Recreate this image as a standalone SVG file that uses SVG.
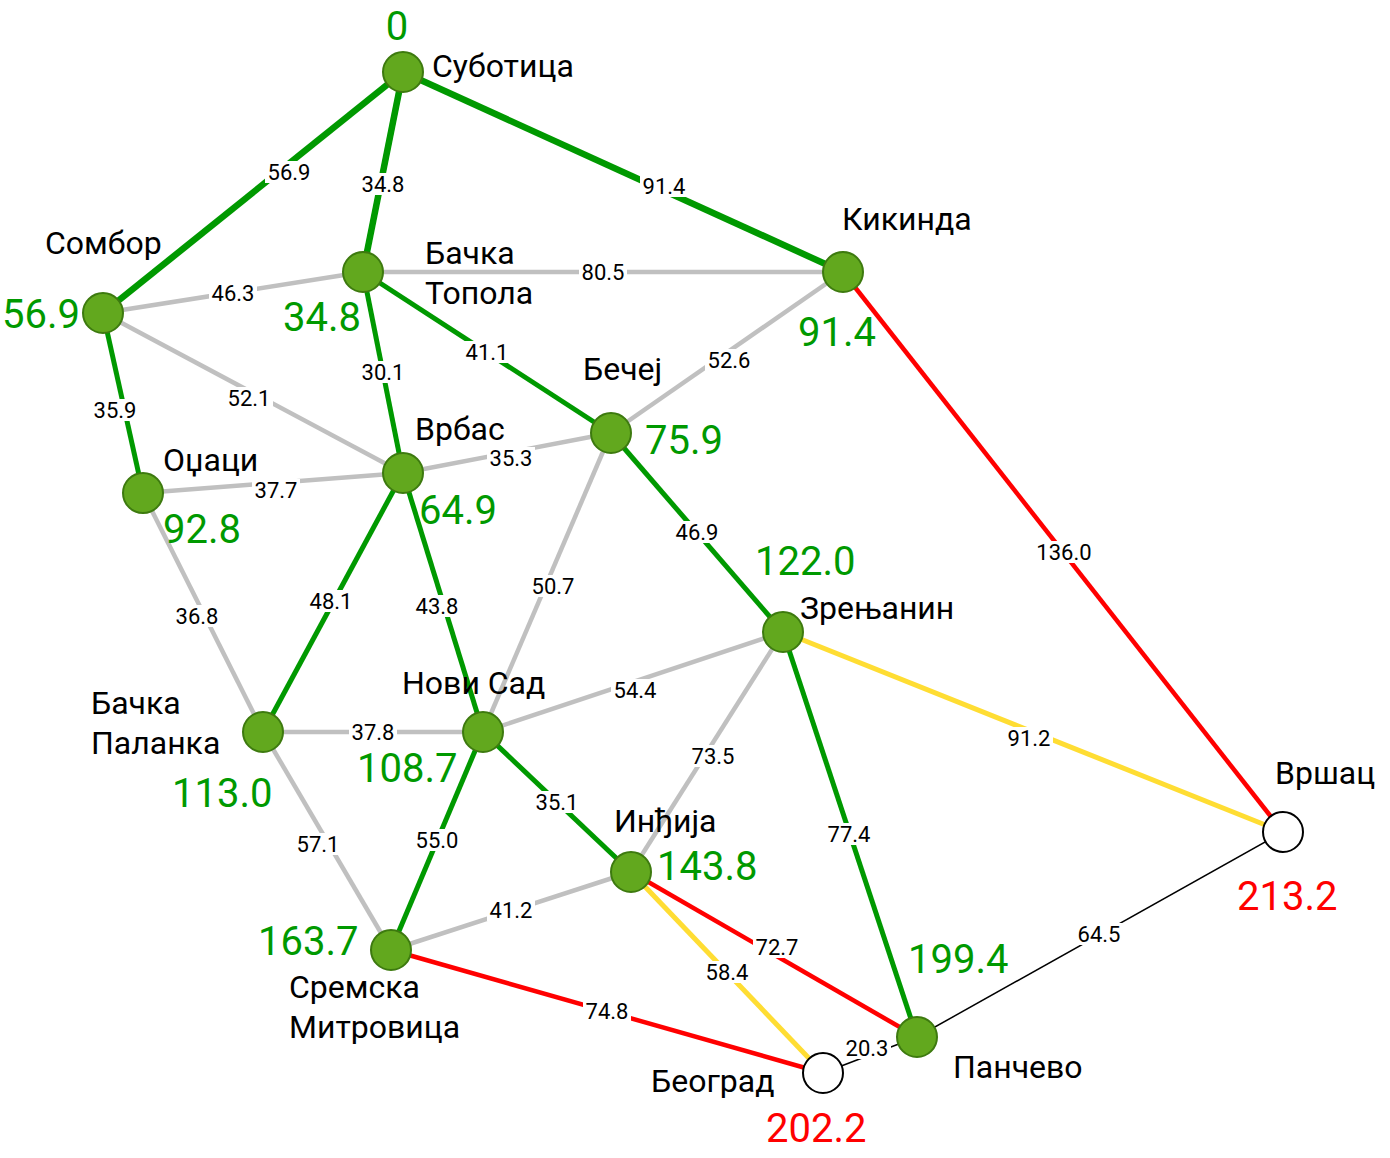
<svg xmlns="http://www.w3.org/2000/svg" width="1390" height="1158" viewBox="0 0 1390 1158">
<style>
.g{stroke:#009900;stroke-width:5;fill:none}
.gt{stroke:#009900;stroke-width:6.5;fill:none}
.s{stroke:#c0c0c0;stroke-width:4.5;fill:none}
.r{stroke:#ff0000;stroke-width:4.5;fill:none}
.y{stroke:#ffdd33;stroke-width:5;fill:none}
.k{stroke:#000000;stroke-width:1.5;fill:none}
.n{fill:#62a81e;stroke:#3d7a0f;stroke-width:2}
.w{fill:#ffffff;stroke:#000000;stroke-width:2}
.lb rect{fill:#ffffff}
.lb text{font-family:Roboto,"Liberation Sans",sans-serif;font-size:22px;fill:#000;text-anchor:middle}
.nm{font-family:Roboto,"Liberation Sans",sans-serif;font-size:32px;fill:#000}
.d{font-family:Roboto,"Liberation Sans",sans-serif;font-size:40px;fill:#009900}
.dr{font-family:Roboto,"Liberation Sans",sans-serif;font-size:40px;fill:#ff0000}
</style>
<rect width="1390" height="1158" fill="#ffffff"/>
<g id="connectors">
<line class="gt" x1="403" y1="72" x2="103" y2="313"/>
<line class="gt" x1="403" y1="72" x2="363" y2="272"/>
<line class="gt" x1="403" y1="72" x2="843" y2="272"/>
<line class="s" x1="103" y1="313" x2="363" y2="272"/>
<line class="s" x1="363" y1="272" x2="843" y2="272"/>
<line class="s" x1="843" y1="272" x2="611" y2="433"/>
<line class="s" x1="103" y1="313" x2="403" y2="473"/>
<line class="s" x1="143" y1="493" x2="403" y2="473"/>
<line class="s" x1="403" y1="473" x2="611" y2="433"/>
<line class="s" x1="611" y1="433" x2="483" y2="732"/>
<line class="s" x1="143" y1="493" x2="263" y2="732"/>
<line class="s" x1="263" y1="732" x2="483" y2="732"/>
<line class="s" x1="483" y1="732" x2="783" y2="632"/>
<line class="s" x1="783" y1="632" x2="631" y2="872"/>
<line class="s" x1="263" y1="732" x2="391" y2="950"/>
<line class="s" x1="391" y1="950" x2="631" y2="872"/>
<line class="g" x1="103" y1="313" x2="143" y2="493"/>
<line class="g" x1="363" y1="272" x2="403" y2="473"/>
<line class="g" x1="363" y1="272" x2="611" y2="433"/>
<line class="g" x1="611" y1="433" x2="783" y2="632"/>
<line class="g" x1="403" y1="473" x2="263" y2="732"/>
<line class="g" x1="403" y1="473" x2="483" y2="732"/>
<line class="g" x1="483" y1="732" x2="631" y2="872"/>
<line class="g" x1="483" y1="732" x2="391" y2="950"/>
<line class="g" x1="783" y1="632" x2="917" y2="1037"/>
<line class="r" x1="843" y1="272" x2="1283" y2="832"/>
<line class="r" x1="631" y1="872" x2="917" y2="1037"/>
<line class="r" x1="391" y1="950" x2="823" y2="1073"/>
<line class="y" x1="783" y1="632" x2="1283" y2="832"/>
<line class="y" x1="631" y1="872" x2="823" y2="1073"/>
<line class="k" x1="917" y1="1037" x2="1283" y2="832"/>
<line class="k" x1="823" y1="1073" x2="917" y2="1037"/>
<g class="lb">
<rect x="265" y="161" width="48" height="22"/><text x="289" y="180">56.9</text>
<rect x="359" y="173" width="48" height="22"/><text x="383" y="192">34.8</text>
<rect x="640" y="175" width="48" height="22"/><text x="664" y="194">91.4</text>
<rect x="209" y="282" width="48" height="22"/><text x="233" y="301">46.3</text>
<rect x="579" y="261" width="48" height="22"/><text x="603" y="280">80.5</text>
<rect x="463" y="341" width="48" height="22"/><text x="487" y="360">41.1</text>
<rect x="359" y="361" width="48" height="22"/><text x="383" y="380">30.1</text>
<rect x="705" y="349" width="48" height="22"/><text x="729" y="368">52.6</text>
<rect x="91" y="399" width="48" height="22"/><text x="115" y="418">35.9</text>
<rect x="225" y="387" width="48" height="22"/><text x="249" y="406">52.1</text>
<rect x="487" y="447" width="48" height="22"/><text x="511" y="466">35.3</text>
<rect x="252" y="479" width="48" height="22"/><text x="276" y="498">37.7</text>
<rect x="673" y="521" width="48" height="22"/><text x="697" y="540">46.9</text>
<rect x="1034" y="541" width="60" height="22"/><text x="1064" y="560">136.0</text>
<rect x="529" y="575" width="48" height="22"/><text x="553" y="594">50.7</text>
<rect x="307" y="590" width="48" height="22"/><text x="331" y="609">48.1</text>
<rect x="413" y="595" width="48" height="22"/><text x="437" y="614">43.8</text>
<rect x="173" y="605" width="48" height="22"/><text x="197" y="624">36.8</text>
<rect x="611" y="679" width="48" height="22"/><text x="635" y="698">54.4</text>
<rect x="349" y="721" width="48" height="22"/><text x="373" y="740">37.8</text>
<rect x="1005" y="727" width="48" height="22"/><text x="1029" y="746">91.2</text>
<rect x="689" y="745" width="48" height="22"/><text x="713" y="764">73.5</text>
<rect x="533" y="791" width="48" height="22"/><text x="557" y="810">35.1</text>
<rect x="825" y="823" width="48" height="22"/><text x="849" y="842">77.4</text>
<rect x="294" y="833" width="48" height="22"/><text x="318" y="852">57.1</text>
<rect x="413" y="829" width="48" height="22"/><text x="437" y="848">55.0</text>
<rect x="487" y="899" width="48" height="22"/><text x="511" y="918">41.2</text>
<rect x="1075" y="923" width="48" height="22"/><text x="1099" y="942">64.5</text>
<rect x="753" y="936" width="48" height="22"/><text x="777" y="955">72.7</text>
<rect x="703" y="961" width="48" height="22"/><text x="727" y="980">58.4</text>
<rect x="583" y="1000" width="48" height="22"/><text x="607" y="1019">74.8</text>
<rect x="843" y="1037" width="48" height="22"/><text x="867" y="1056">20.3</text>
</g>
</g>
<g id="subotica"><circle class="n" cx="403" cy="72" r="20"/><text class="nm" x="432" y="77">Суботица</text><text class="d" x="397" y="40" text-anchor="middle">0</text></g>
<g id="sombor"><circle class="n" cx="103" cy="313" r="20"/><text class="nm" x="45" y="254">Сомбор</text><text class="d" x="2" y="328">56.9</text></g>
<g id="backa-topola"><circle class="n" cx="363" cy="272" r="20"/><text class="nm" x="425" y="264">Бачка</text><text class="nm" x="425" y="304">Топола</text><text class="d" x="283" y="331">34.8</text></g>
<g id="kikinda"><circle class="n" cx="843" cy="272" r="20"/><text class="nm" x="842" y="230">Кикинда</text><text class="d" x="798" y="346">91.4</text></g>
<g id="becej"><circle class="n" cx="611" cy="433" r="20"/><text class="nm" x="583" y="380">Бечеј</text><text class="d" x="645" y="454">75.9</text></g>
<g id="vrbas"><circle class="n" cx="403" cy="473" r="20"/><text class="nm" x="415" y="440">Врбас</text><text class="d" x="419" y="524">64.9</text></g>
<g id="odzaci"><circle class="n" cx="143" cy="493" r="20"/><text class="nm" x="163" y="471">Оџаци</text><text class="d" x="163" y="543">92.8</text></g>
<g id="zrenjanin"><circle class="n" cx="783" cy="632" r="20"/><text class="nm" x="800" y="619">Зрењанин</text><text class="d" x="755" y="575">122.0</text></g>
<g id="backa-palanka"><circle class="n" cx="263" cy="732" r="20"/><text class="nm" x="91" y="714">Бачка</text><text class="nm" x="91" y="754">Паланка</text><text class="d" x="172" y="807">113.0</text></g>
<g id="novi-sad"><circle class="n" cx="483" cy="732" r="20"/><text class="nm" x="402" y="694">Нови Сад</text><text class="d" x="357" y="782">108.7</text></g>
<g id="indjija"><circle class="n" cx="631" cy="872" r="20"/><text class="nm" x="614" y="832">Инђија</text><text class="d" x="657" y="880">143.8</text></g>
<g id="sremska-mitrovica"><circle class="n" cx="391" cy="950" r="20"/><text class="nm" x="289" y="998">Сремска</text><text class="nm" x="289" y="1038">Митровица</text><text class="d" x="258" y="955">163.7</text></g>
<g id="pancevo"><circle class="n" cx="917" cy="1037" r="20"/><text class="nm" x="953" y="1078">Панчево</text><text class="d" x="908" y="973">199.4</text></g>
<g id="beograd"><circle class="w" cx="823" cy="1073" r="20"/><text class="nm" x="651" y="1092">Београд</text><text class="dr" x="766" y="1142">202.2</text></g>
<g id="vrsac"><circle class="w" cx="1283" cy="832" r="20"/><text class="nm" x="1275" y="784">Вршац</text><text class="dr" x="1237" y="910">213.2</text></g>
</svg>
